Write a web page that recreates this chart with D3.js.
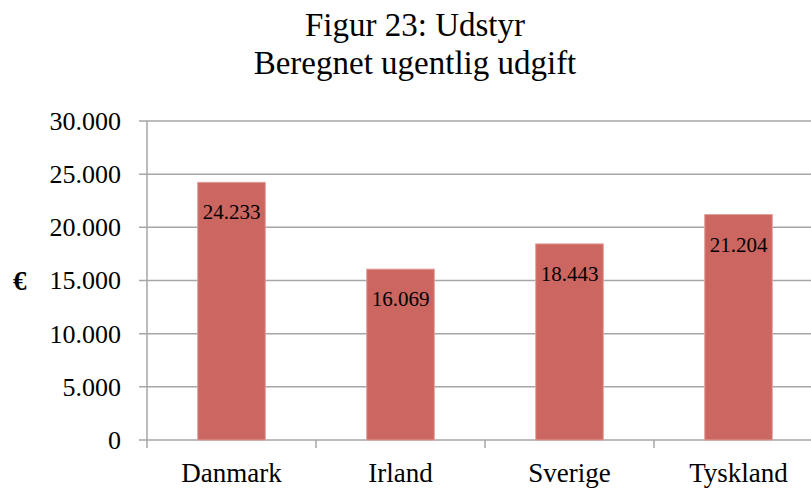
<!DOCTYPE html>
<html>
<head>
<meta charset="utf-8">
<script src="https://cdn.jsdelivr.net/npm/d3@7"></script>
<style>
  body { margin: 0; background: #fff; }
  text { font-family: 'Liberation Serif', 'DejaVu Serif', serif; fill: #000; }
</style>
</head>
<body>
<div id="chart"></div>
<script>
const categories = ['Danmark', 'Irland', 'Sverige', 'Tyskland'];
const values = [24233, 16069, 18443, 21204];
const yTicks = [0, 5000, 10000, 15000, 20000, 25000, 30000];
const titleLines = ['Figur 23: Udstyr', 'Beregnet ugentlig udgift'];

const width = 811;
const height = 489;
const fmt = (v) => d3.format(',')(v).replace(/,/g, '.');

const svg = d3.select('#chart')
  .append('svg')
  .attr('width', width)
  .attr('height', height);

const x = d3.scaleBand()
  .domain(categories)
  .range([147, 823])
  .paddingInner(0)
  .paddingOuter(0);

const y = d3.scaleLinear()
  .domain([0, 30000])
  .range([440, 121]);

// gridlines
svg.append('g')
  .selectAll('line')
  .data(yTicks)
  .join('line')
  .attr('x1', 139)
  .attr('x2', width)
  .attr('y1', (d) => y(d))
  .attr('y2', (d) => y(d))
  .attr('stroke', '#a6a6a6')
  .attr('stroke-width', 1.5);

// y axis line
svg.append('line')
  .attr('x1', 147)
  .attr('x2', 147)
  .attr('y1', y(30000))
  .attr('y2', 448)
  .attr('stroke', '#a6a6a6')
  .attr('stroke-width', 1.5);

// category boundary ticks
svg.append('g')
  .selectAll('line')
  .data(categories.slice(1))
  .join('line')
  .attr('x1', (d) => x(d))
  .attr('x2', (d) => x(d))
  .attr('y1', 440)
  .attr('y2', 448)
  .attr('stroke', '#a6a6a6')
  .attr('stroke-width', 1.5);

// y tick labels
svg.append('g')
  .selectAll('text')
  .data(yTicks)
  .join('text')
  .attr('x', 121)
  .attr('y', (d) => y(d))
  .attr('dy', '0.34em')
  .attr('text-anchor', 'end')
  .attr('font-size', 26)
  .text((d) => fmt(d));

svg.append('text')
  .attr('x', 13)
  .attr('y', y(15000))
  .attr('dy', '0.34em')
  .attr('font-size', 27)
  .attr('font-weight', 'bold')
  .text('€');

// bars
const barW = x.bandwidth() * 0.4;
svg.append('g')
  .selectAll('rect')
  .data(values)
  .join('rect')
  .attr('x', (d, i) => x(categories[i]) + (x.bandwidth() - barW) / 2)
  .attr('y', (d) => y(d))
  .attr('width', barW)
  .attr('height', (d) => y(0) - y(d))
  .attr('fill', '#cc6660')
  .attr('stroke', '#e0a09c')
  .attr('stroke-width', 1);

// value labels
svg.append('g')
  .selectAll('text')
  .data(values)
  .join('text')
  .attr('x', (d, i) => x(categories[i]) + x.bandwidth() / 2)
  .attr('y', (d) => y(d) + 30)
  .attr('dy', '0.34em')
  .attr('text-anchor', 'middle')
  .attr('font-size', 21)
  .text((d) => fmt(d));

// category labels
svg.append('g')
  .selectAll('text')
  .data(categories)
  .join('text')
  .attr('x', (d) => x(d) + x.bandwidth() / 2)
  .attr('y', 482)
  .attr('text-anchor', 'middle')
  .attr('font-size', 27)
  .text((d) => d);

// title
svg.append('g')
  .selectAll('text')
  .data(titleLines)
  .join('text')
  .attr('x', 415)
  .attr('y', (d, i) => 36 + i * 38)
  .attr('text-anchor', 'middle')
  .attr('font-size', 33)
  .text((d) => d);
</script>
</body>
</html>
